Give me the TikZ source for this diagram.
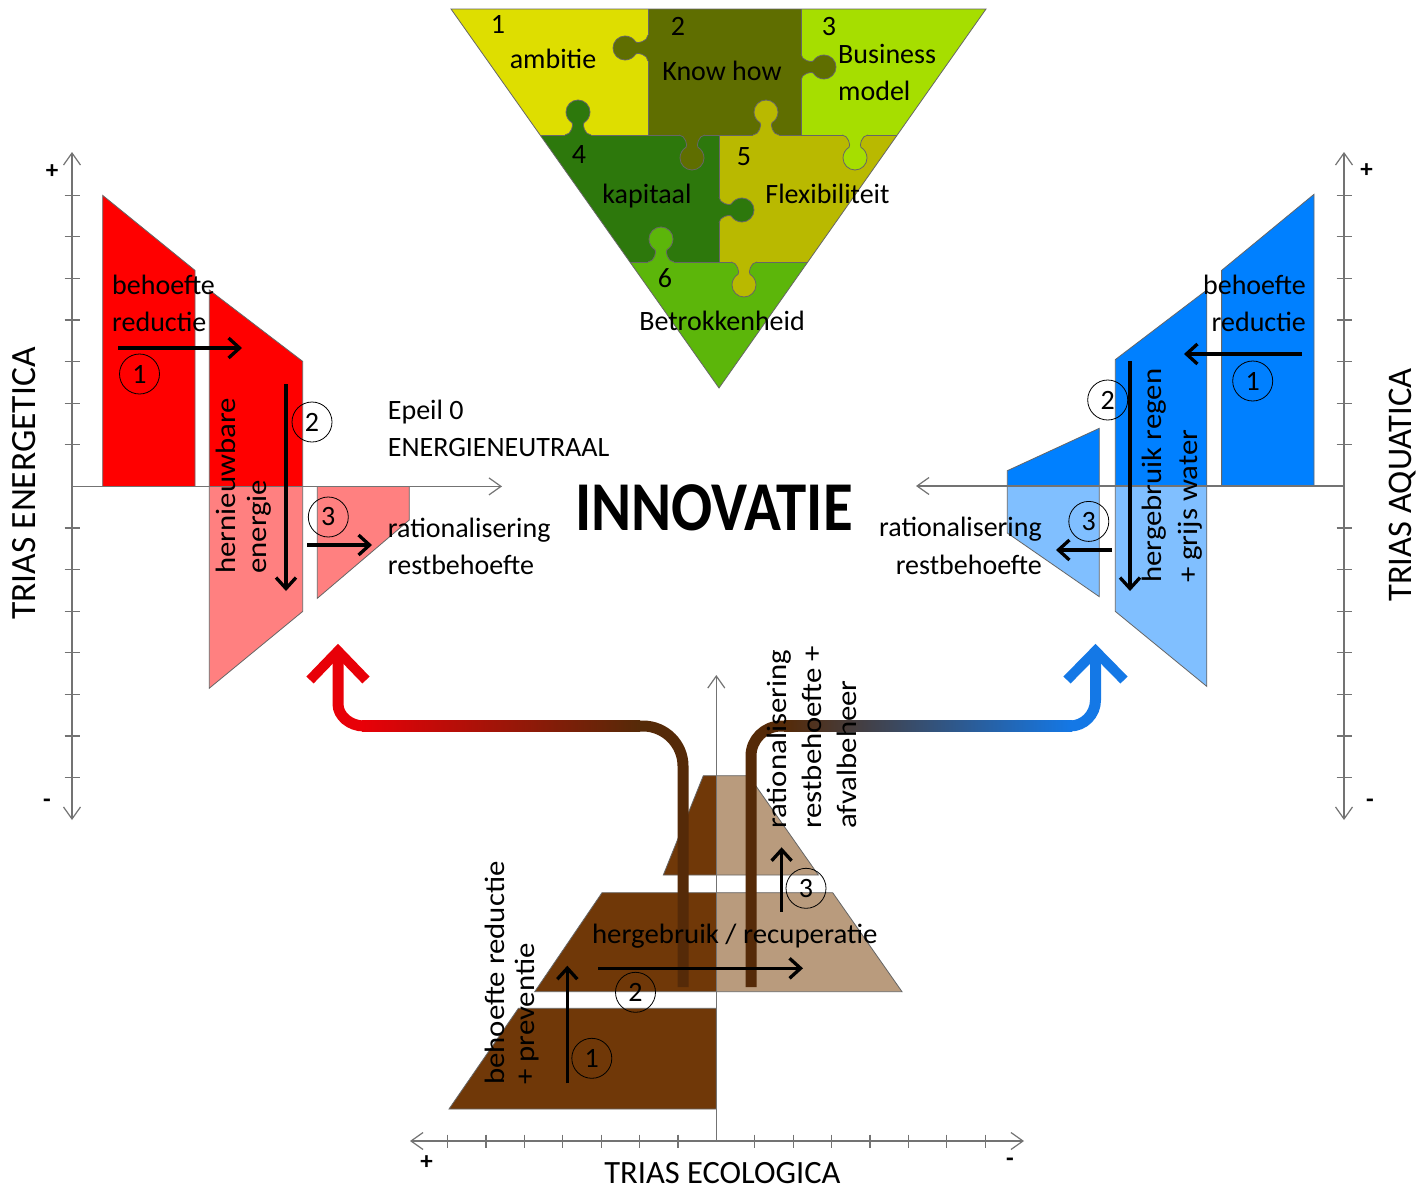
\documentclass[tikz,border=0pt]{standalone}
\usepackage{fontspec}
\setmainfont{Carlito}
\usepackage{graphicx}
\usetikzlibrary{arrows.meta}
\definecolor{redA}{RGB}{255,0,0}
\definecolor{redB}{RGB}{255,128,128}
\definecolor{blueA}{RGB}{0,128,255}
\definecolor{blueB}{RGB}{128,191,255}
\definecolor{brA}{RGB}{112,56,8}
\definecolor{tanC}{RGB}{185,155,125}
\definecolor{pipeBr}{RGB}{85,42,8}
\definecolor{arrRed}{RGB}{232,0,8}
\definecolor{arrBlue}{RGB}{20,120,230}
\definecolor{pz1}{RGB}{222,222,0}
\definecolor{pz2}{RGB}{95,110,0}
\definecolor{pz3}{RGB}{166,222,0}
\definecolor{pz4}{RGB}{45,120,12}
\definecolor{pz5}{RGB}{185,185,0}
\definecolor{pz6}{RGB}{92,182,10}
\newcommand{\vstr}[1]{\scalebox{1.1}[1]{#1}}
\tikzset{
 lbl/.style={inner sep=0pt, font=\fontsize{28}{34}\selectfont},
 num/.style={circle, draw=black, line width=0.8pt, minimum size=40pt, inner sep=0pt, font=\fontsize{28}{34}\selectfont},
 shp/.style={draw=black!60, line width=0.8pt},
 axisline/.style={draw=black!55, line width=1.2pt},
 axtip/.style={-{Straight Barb[length=12pt,width=17pt]}},
 blkarrow/.style={draw=black, line width=3.3pt, -{Straight Barb[length=11pt,width=20pt]}},
 pedge/.style={draw=black!60, line width=0.8pt},
 pipe/.style={line width=11pt, draw=pipeBr},
 chev/.style={line width=10pt, miter limit=10, line join=miter},
 pm/.style={inner sep=0pt, font=\fontsize{25}{25}\selectfont\bfseries},
 pics/ptab/.style={code={
  \fill[#1] (-13,-2.5) -- (-13,0) .. controls (-6.5,0) and (-4.1,11.2) .. (-6,12.3)
    .. controls (-9.7,14.5) and (-12,18.7) .. (-12,23)
    .. controls (-12,29.6) and (-6.6,35) .. (0,35)
    .. controls (6.6,35) and (12,29.6) .. (12,23)
    .. controls (12,18.7) and (9.7,14.5) .. (6,12.3)
    .. controls (4.1,11.2) and (6.5,0) .. (13,0) -- (13,-2.5) -- cycle;
  \draw[pedge] (-13,0) .. controls (-6.5,0) and (-4.1,11.2) .. (-6,12.3)
    .. controls (-9.7,14.5) and (-12,18.7) .. (-12,23)
    .. controls (-12,29.6) and (-6.6,35) .. (0,35)
    .. controls (6.6,35) and (12,29.6) .. (12,23)
    .. controls (12,18.7) and (9.7,14.5) .. (6,12.3)
    .. controls (4.1,11.2) and (6.5,0) .. (13,0);
 }}
}
\begin{document}
\begin{tikzpicture}[x=1pt,y=-1pt]
\fill[white] (0,0) rectangle (1421,1191);
\useasboundingbox (0,0) rectangle (1421,1191);

% ---------------- PUZZLE ----------------
\begin{scope}
\clip (451,9) -- (986,9) -- (719,388) -- cycle;
\fill[pz1] (440,0) rectangle (648,135);
\fill[pz2] (648,0) rectangle (801,135);
\fill[pz3] (801,0) rectangle (1000,135);
\fill[pz4] (440,135) rectangle (719,262);
\fill[pz5] (719,135) rectangle (1000,262);
\fill[pz6] (440,262) rectangle (1000,400);
\draw[pedge] (440,135) -- (1000,135) (440,262) -- (1000,262)
  (648,0) -- (648,135) (801,0) -- (801,135) (719,135) -- (719,262);
\pic[rotate=-90] at (648,48) {ptab=pz2};
\pic[rotate=90] at (801,67) {ptab=pz2};
\pic[rotate=180] at (578,135) {ptab=pz4};
\pic at (692,135) {ptab=pz2};
\pic[rotate=180] at (766,135) {ptab=pz5};
\pic at (855,135) {ptab=pz3};
\pic[rotate=90] at (719,210) {ptab=pz4};
\pic[rotate=180] at (661,262) {ptab=pz6};
\pic at (744,262) {ptab=pz5};
\end{scope}
\draw[pedge] (451,9) -- (986,9) -- (719,388) -- cycle;
\node[lbl, anchor=base] (p1) at (498,33) {1};
\node[lbl, anchor=base] (p2) at (678,35) {2};
\node[lbl, anchor=base] (p3) at (829,35) {3};
\node[lbl, anchor=base] (p4) at (579,163) {4};
\node[lbl, anchor=base] (p5) at (744,165) {5};
\node[lbl, anchor=base] (p6) at (665,287) {6};
\node[lbl, anchor=base] (t1) at (553,68) {ambitie};
\node[lbl, anchor=base] (t2) at (722,80) {Know how};
\node[lbl, anchor=base west] (t3a) at (838,63) {Business};
\node[lbl, anchor=base west] (t3b) at (838,100) {model};
\node[lbl, anchor=base] (t4) at (647,203) {kapitaal};
\node[lbl, anchor=base] (t5) at (827.5,203) {Flexibiliteit};
\node[lbl, anchor=base] (t6) at (722,330) {Betrokkenheid};

% ---------------- LEFT: TRIAS ENERGETICA ----------------
\filldraw[shp, fill=redA] (102.7,195.4) -- (195,270.4) -- (195,486.4) -- (102.7,486.4) -- cycle;
\fill[redA] (209.3,290) -- (302.7,361.4) -- (302.7,486.4) -- (209.3,486.4) -- cycle;
\fill[redB] (209.3,486.4) -- (302.7,486.4) -- (302.7,611.4) -- (209.3,688.2) -- cycle;
\draw[shp] (209.3,290) -- (302.7,361.4) -- (302.7,611.4) -- (209.3,688.2) -- cycle;
\filldraw[shp, fill=redB] (317.3,486.4) -- (409.3,486.4) -- (409.3,520) -- (317.3,598.3) -- cycle;

\coordinate (LO) at (72,486.4);
\coordinate (Ltop) at (72,152);
\coordinate (Lbot) at (72,820);
\coordinate (Lrt) at (502,486.4);
\draw[axisline, axtip] (LO) -- (Ltop);
\draw[axisline, axtip] (LO) -- (Lbot);
\draw[axisline, axtip] (LO) -- (Lrt);
\foreach \k in {-7,-6,-5,-4,-3,-2,-1,1,2,3,4,5,6,7}
  \draw[axisline] (64.5,{486.4+41.6*\k}) -- (79.5,{486.4+41.6*\k});
\node[pm] (Lplus) at (52,172) {+};
\node[pm] (Lminus) at (47,803) {-};

\node[lbl, anchor=base west] (Lb1) at (112,294) {behoefte};
\node[lbl, anchor=base west] (Lb2) at (112,331) {reductie};
\node[lbl, anchor=base west, rotate=90] (Lh1) at (235,574) {\vstr{hernieuwbare}};
\node[lbl, anchor=base west, rotate=90] (Lh2) at (266,574) {\vstr{energie}};
\node[lbl, anchor=base west] (Le1) at (387.7,419) {Epeil 0};
\node[lbl, anchor=base west] (Le2) at (387.7,456) {ENERGIENEUTRAAL};
\node[lbl, anchor=base west] (Lr1) at (387.7,537) {rationalisering};
\node[lbl, anchor=base west] (Lr2) at (387.7,574) {restbehoefte};
\node[inner sep=0pt, font=\fontsize{35.5}{40}\selectfont, anchor=base, rotate=90] (LT) at (35,483.5) {TRIAS ENERGETICA};

\coordinate (La1s) at (118,348); \coordinate (La1e) at (242,348);
\coordinate (La2s) at (286,384); \coordinate (La2e) at (286,591);
\coordinate (La3s) at (307,545); \coordinate (La3e) at (372,545);
\draw[blkarrow] (La1s) -- (La1e);
\draw[blkarrow] (La2s) -- (La2e);
\draw[blkarrow] (La3s) -- (La3e);
\node[num] (Lc1) at (139.5,374) {1};
\node[num] (Lc2) at (312,422) {2};
\node[num] (Lc3) at (328.3,517) {3};

% ---------------- RIGHT: TRIAS AQUATICA ----------------
\filldraw[shp, fill=blueA] (1221.6,270.4) -- (1314,194.3) -- (1314,486) -- (1221.6,486) -- cycle;
\fill[blueA] (1115.3,359.6) -- (1206.8,290) -- (1206.8,486) -- (1115.3,486) -- cycle;
\fill[blueB] (1115.3,486) -- (1206.8,486) -- (1206.8,686.4) -- (1115.3,611.4) -- cycle;
\draw[shp] (1115.3,359.6) -- (1206.8,290) -- (1206.8,686.4) -- (1115.3,611.4) -- cycle;
\fill[blueA] (1007.3,470.7) -- (1099.3,428.3) -- (1099.3,486) -- (1007.3,486) -- cycle;
\fill[blueB] (1007.3,486) -- (1099.3,486) -- (1099.3,596.7) -- (1007.3,533) -- cycle;
\draw[shp] (1007.3,470.7) -- (1099.3,428.3) -- (1099.3,596.7) -- (1007.3,533) -- cycle;

\coordinate (RO) at (1344,486);
\coordinate (Rtop) at (1344,152);
\coordinate (Rbot) at (1344,820);
\coordinate (Rlf) at (916,486);
\draw[axisline, axtip] (RO) -- (Rtop);
\draw[axisline, axtip] (RO) -- (Rbot);
\draw[axisline, axtip] (RO) -- (Rlf);
\foreach \k in {-7,-6,-5,-4,-3,-2,-1,1,2,3,4,5,6,7}
  \draw[axisline] (1336.5,{486.4+41.6*\k}) -- (1351.5,{486.4+41.6*\k});
\node[pm] (Rplus) at (1366.5,171) {+};
\node[pm] (Rminus) at (1370,803) {-};

\node[lbl, anchor=base east] (Rb1) at (1306,294) {behoefte};
\node[lbl, anchor=base east] (Rb2) at (1306,331) {reductie};
\node[lbl, anchor=base west, rotate=90] (Rh1) at (1161,583) {\vstr{hergebruik regen}};
\node[lbl, anchor=base west, rotate=90] (Rh2) at (1197,583) {\vstr{+ grijs water}};
\node[lbl, anchor=base east] (Rr1) at (1042,536) {rationalisering};
\node[lbl, anchor=base east] (Rr2) at (1042,574) {restbehoefte};
\node[inner sep=0pt, font=\fontsize{34.5}{40}\selectfont, anchor=base, rotate=90] (RT) at (1411,485) {TRIAS AQUATICA};

\coordinate (Ra1s) at (1302,354); \coordinate (Ra1e) at (1184,354);
\coordinate (Ra2s) at (1130,361); \coordinate (Ra2e) at (1130,591);
\coordinate (Ra3s) at (1112,550); \coordinate (Ra3e) at (1056,550);
\draw[blkarrow] (Ra1s) -- (Ra1e);
\draw[blkarrow] (Ra2s) -- (Ra2e);
\draw[blkarrow] (Ra3s) -- (Ra3e);
\node[num] (Rc1) at (1252.7,381) {1};
\node[num] (Rc2) at (1107.7,400) {2};
\node[num] (Rc3) at (1088.8,521.4) {3};

% ---------------- INNOVATIE ----------------
\node[inner sep=0pt, anchor=base] (inn) at (714,530) {\scalebox{0.87}[1]{\fontsize{70}{70}\selectfont\bfseries INNOVATIE}};

% ---------------- BOTTOM: TRIAS ECOLOGICA ----------------
\filldraw[shp, fill=brA] (449,1109) -- (518.4,1008.3) -- (716.3,1008.3) -- (716.3,1109) -- cycle;
\fill[brA] (534.7,991.7) -- (602,892.7) -- (716.3,892.7) -- (716.3,991.7) -- cycle;
\fill[tanC] (716.3,892.7) -- (832.7,892.7) -- (902,991.7) -- (716.3,991.7) -- cycle;
\draw[shp] (534.7,991.7) -- (602,892.7) -- (832.7,892.7) -- (902,991.7) -- cycle;
\fill[brA] (663.3,875) -- (703.3,775.7) -- (716.3,775.7) -- (716.3,875) -- cycle;
\fill[tanC] (716.3,775.7) -- (748.7,775.7) -- (818.3,875) -- (716.3,875) -- cycle;
\draw[shp] (663.3,875) -- (703.3,775.7) -- (748.7,775.7) -- (818.3,875) -- cycle;

% pipes
\coordinate (PLb) at (683,987);
\coordinate (PLc) at (638,726);
\draw[pipe, line cap=butt] (PLb) -- (683,766) .. controls (683,744) and (665,726) .. (643,726) -- (PLc);
\shade[left color=arrRed, right color=pipeBr] (362,720.5) rectangle (640,731.5);
\coordinate (RAr) at (338,655);
\draw[pipe, draw=arrRed, line cap=butt] (364,726) .. controls (350,726) and (338,716) .. (338,704) -- (RAr);
\coordinate (RAl) at (310,680); \coordinate (RAt) at (338,651); \coordinate (RAe) at (366,680);
\draw[chev, draw=arrRed] (RAl) -- (RAt) -- (RAe);

\coordinate (PRb) at (751,987);
\coordinate (PRc) at (786,726);
\draw[pipe, line cap=butt] (PRb) -- (751,756) .. controls (751,739.5) and (764.5,726) .. (781,726) -- (PRc);
\shade[left color=pipeBr, right color=arrBlue] (784,720.5) rectangle (1072,731.5);
\coordinate (BAr) at (1095.5,655);
\draw[pipe, draw=arrBlue, line cap=butt] (1070,726) .. controls (1084,726) and (1095.5,714.5) .. (1095.5,700) -- (BAr);
\coordinate (BAl) at (1067,680); \coordinate (BAt) at (1095.5,651); \coordinate (BAe) at (1124,680);
\draw[chev, draw=arrBlue] (BAl) -- (BAt) -- (BAe);

% axes
\coordinate (BO) at (716.3,1141);
\coordinate (Blf) at (410,1141);
\coordinate (Brt) at (1024,1141);
\coordinate (Btop) at (716.3,675);
\draw[axisline, axtip] (BO) -- (Blf);
\draw[axisline, axtip] (BO) -- (Brt);
\draw[axisline, axtip] (BO) -- (Btop);
\foreach \k in {-7,-6,-5,-4,-3,-2,-1,1,2,3,4,5,6,7}
  \draw[axisline] ({716.3+38.4*\k},1134.5) -- ({716.3+38.4*\k},1147.5);
\node[pm] (Bplus) at (426.5,1163) {+};
\node[pm] (Bminus) at (1010,1162) {-};
\node[inner sep=0pt, font=\fontsize{32.5}{40}\selectfont, anchor=base] (BT) at (722.4,1183.5) {TRIAS ECOLOGICA};

\coordinate (Ba1s) at (567.3,1083.3); \coordinate (Ba1e) at (567.3,965.7);
\coordinate (Ba2s) at (598,968.3); \coordinate (Ba2e) at (803,968.3);
\coordinate (Ba3s) at (781.6,911.7); \coordinate (Ba3e) at (781.6,847.3);
\draw[blkarrow] (Ba1s) -- (Ba1e);
\draw[blkarrow] (Ba2s) -- (Ba2e);
\draw[blkarrow] (Ba3s) -- (Ba3e);
\node[num] (Bc1) at (591.8,1058.3) {1};
\node[num] (Bc2) at (635.5,992.3) {2};
\node[num] (Bc3) at (806,888.3) {3};

\node[lbl, anchor=base] (Bh) at (734.7,943) {\scalebox{1.03}[1]{hergebruik / recuperatie}};
\node[lbl, anchor=base west, rotate=90] (Bp1) at (504,1085) {\vstr{behoefte reductie}};
\node[lbl, anchor=base west, rotate=90] (Bp2) at (534,1085) {\vstr{+ preventie}};
\node[lbl, anchor=base west, rotate=90] (Br1) at (786,829) {\vstr{rationalisering}};
\node[lbl, anchor=base west, rotate=90] (Br2) at (821,829) {\vstr{restbehoefte +}};
\node[lbl, anchor=base west, rotate=90] (Br3) at (856,829) {\vstr{afvalbeheer}};
\end{tikzpicture}
\end{document}
